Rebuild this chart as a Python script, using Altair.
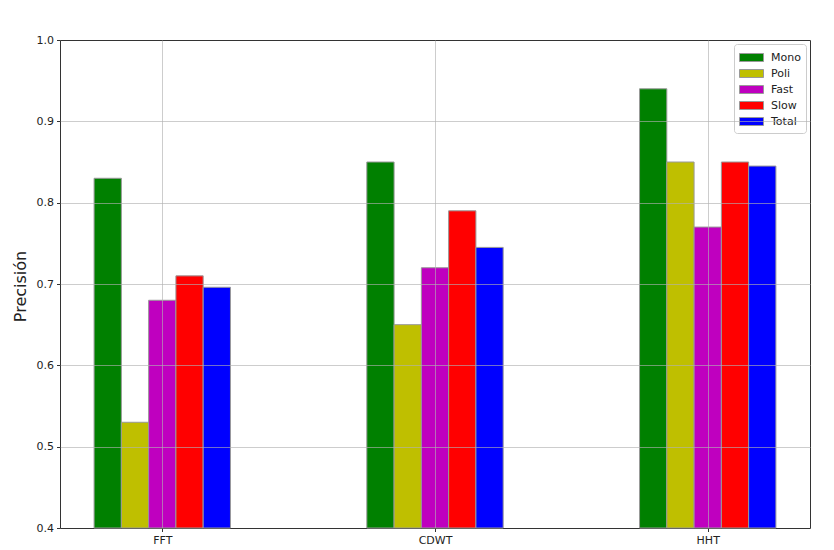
import altair as alt
import pandas as pd

methods = ["FFT", "CDWT", "HHT"]
series = ["Mono", "Poli", "Fast", "Slow", "Total"]
colors = ["#008000", "#bfbf00", "#bf00bf", "#ff0000", "#0000ff"]
mono = [0.83, 0.85, 0.94]
poli = [0.53, 0.65, 0.85]
fast = [0.68, 0.72, 0.77]
slow = [0.71, 0.79, 0.85]
total = [0.696, 0.745, 0.845]
y_ticks = [0.4, 0.5, 0.6, 0.7, 0.8, 0.9, 1.0]
bar_width = 0.1

rows = []
for s_i, (name, vals) in enumerate(zip(series, [mono, poli, fast, slow, total])):
    for m_i, v in enumerate(vals):
        center = m_i + (s_i - 2) * bar_width
        rows.append(dict(method=methods[m_i], series=name, value=v,
                         x0=center - bar_width / 2, x1=center + bar_width / 2))
df = pd.DataFrame(rows)

label_expr = "[" + ",".join("'%s'" % m for m in methods) + "][datum.value]"
y_grid_opacity = {"condition": {"test": "datum.value <= 0.401 || datum.value >= 0.999", "value": 0},
                  "value": 0.8}

bars = alt.Chart(df).mark_bar(stroke="#999999", strokeWidth=1).encode(
    x=alt.X("x0:Q",
            scale=alt.Scale(domain=[-0.375, 2.375], nice=False, zero=False),
            axis=alt.Axis(values=[0, 1, 2], labelExpr=label_expr, title=None,
                          grid=True, gridColor="#b0b0b0", gridWidth=0.8, gridOpacity=0.8,
                          domain=False, tickColor="#333333", tickSize=3.5,
                          labelFontSize=11, labelColor="#222222", labelPadding=3,
                          labelFont="DejaVu Sans", zindex=1)),
    x2="x1:Q",
    y=alt.Y("value:Q",
            scale=alt.Scale(domain=[0.4, 1.0], nice=False, zero=False),
            axis=alt.Axis(values=y_ticks, format=".1f", title="Precisión",
                          grid=True, gridColor="#b0b0b0", gridWidth=0.8,
                          gridOpacity=y_grid_opacity,
                          domain=False, tickColor="#333333", tickSize=3.5,
                          labelFontSize=11, labelColor="#222222", labelPadding=3,
                          labelFont="DejaVu Sans",
                          titleFont="DejaVu Sans", titleFontSize=16, titleFontWeight="normal",
                          titleColor="#222222", titleAngle=-90, titleX=-40, titleY=246,
                          titleAlign="center", titleBaseline="middle", zindex=1)),
    y2=alt.datum(0.4),
    color=alt.Color("series:N",
                    scale=alt.Scale(domain=series, range=colors),
                    legend=alt.Legend(title=None, orient="none", legendX=674, legendY=4,
                                      symbolType="M-1.5,-0.5L1.5,-0.5L1.5,0.5L-1.5,0.5Z",
                                      symbolSize=256, symbolStrokeColor="#999999",
                                      symbolStrokeWidth=1, symbolOpacity=1,
                                      symbolOffset=4, labelOffset=11,
                                      labelFont="DejaVu Sans", labelFontSize=11,
                                      labelColor="#222222", rowPadding=1,
                                      strokeColor="#cccccc", fillColor="white",
                                      padding=5, cornerRadius=3)),
    order=alt.Order("x0:Q"),
)

chart = bars.properties(
    width=750, height=488,
    autosize=alt.AutoSizeParams(type="none"),
    padding={"left": 60, "top": 40, "right": 24, "bottom": 22},
).configure(
    background="white",
    view=alt.ViewConfig(stroke="#333333", strokeWidth=1),
)

chart.save("out.html", embed_options={"renderer": "svg", "actions": False})
